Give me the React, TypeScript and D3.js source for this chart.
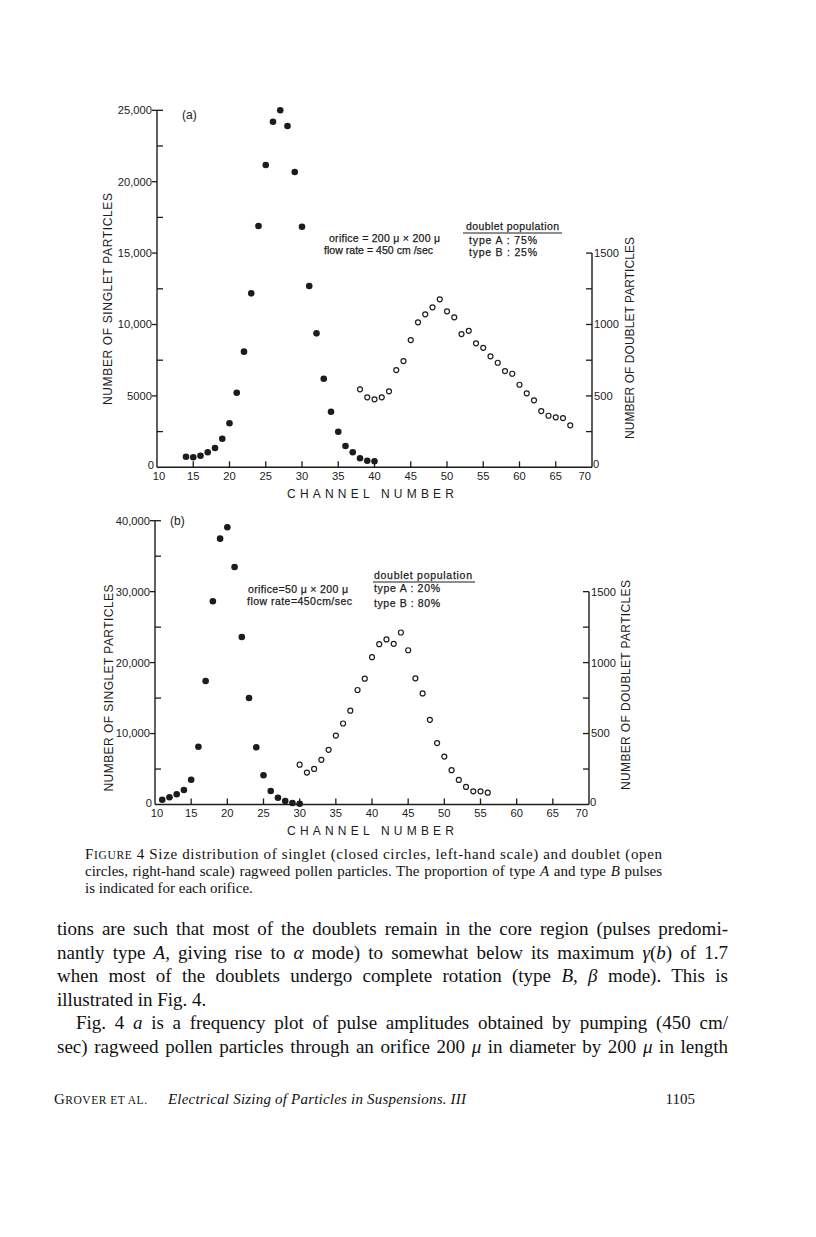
import { useRef, useLayoutEffect } from 'react';
import * as d3 from 'd3';

// ---- data ----
// (a) orifice 200 x 200
const A_SINGLET_CH = [14, 15, 16, 17, 18, 19, 20, 21, 22, 23, 24, 25, 26, 27, 28, 29, 30, 31, 32, 33, 34, 35, 36, 37, 38, 39, 40];
const A_SINGLET = [740, 700, 810, 1050, 1350, 2000, 3080, 5220, 8100, 12180, 16900, 21170, 24200, 25000, 23900, 20680, 16850, 12700, 9380, 6200, 3890, 2490, 1490, 1050, 630, 460, 420];
const A_DOUBLET_CH = [38, 39, 40, 41, 42, 43, 44, 45, 46, 47, 48, 49, 50, 51, 52, 53, 54, 55, 56, 57, 58, 59, 60, 61, 62, 63, 64, 65, 66, 67];
const A_DOUBLET = [546, 490, 476, 490, 532, 681, 744, 891, 1015, 1071, 1120, 1176, 1092, 1050, 933, 956, 868, 837, 777, 732, 674, 655, 578, 518, 469, 394, 361, 350, 345, 294];

// (b) orifice 50 x 200
const B_SINGLET_CH = [11, 12, 13, 14, 15, 16, 17, 18, 19, 20, 21, 22, 23, 24, 25, 26, 27, 28, 29, 30];
const B_SINGLET = [676, 1015, 1437, 2044, 3496, 8146, 17400, 28640, 37470, 39070, 33470, 23610, 15010, 8060, 4115, 1900, 960, 490, 210, 100];
const B_DOUBLET_CH = [30, 31, 32, 33, 34, 35, 36, 37, 38, 39, 40, 41, 42, 43, 44, 45, 46, 47, 48, 49, 50, 51, 52, 53, 54, 55, 56];
const B_DOUBLET = [281, 225, 251, 315, 385, 486, 571, 661, 807, 887, 1038, 1130, 1163, 1132, 1212, 1087, 889, 783, 597, 433, 338, 242, 173, 124, 93, 93, 83];

// ticks
const X_TICKS = [10, 15, 20, 25, 30, 35, 40, 45, 50, 55, 60, 65, 70];
const A_LEFT_MAJOR = [0, 5000, 10000, 15000, 20000, 25000];
const A_LEFT_MINOR = [2500, 7500, 12500, 17500, 22500];
const B_LEFT_MAJOR = [0, 10000, 20000, 30000, 40000];
const B_LEFT_MINOR = [5000, 15000, 25000, 35000];
const RIGHT_MAJOR = [0, 500, 1000, 1500];
const RIGHT_MINOR = [250, 750, 1250];

const SANS = "'Liberation Sans', Arial, sans-serif";
const SERIF = "'Liberation Serif', 'Times New Roman', serif";
const INK = '#1c1c1c';

const fmtLeft = (v: number) => (v >= 10000 ? d3.format(',')(v) : String(v));

type PanelProps = {
  xr: [number, number];
  yr: [number, number];
  leftMax: number;
  rightTop: number; // left-scale value level with 1500 doublets
  leftMajor: number[];
  leftMinor: number[];
  singletCh: number[];
  singlet: number[];
  doubletCh: number[];
  doublet: number[];
  label: string;
  labelX: number;
  labelDy: number;
  leftTitle: { x: number; y: number; len: number };
  rightTitle: { x: number; y: number; len: number };
  channelY: number;
};

function Panel(p: PanelProps) {
  const x = d3.scaleLinear().domain([10, 70]).range(p.xr);
  const yL = d3.scaleLinear().domain([0, p.leftMax]).range(p.yr);
  const yR = d3.scaleLinear().domain([0, 1500]).range([p.yr[0], yL(p.rightTop)]);
  const x0 = x(10), x1 = x(70), y0 = yL(0);
  const fs = 11.2;

  return (
    <g fill={INK} stroke="none" fontFamily={SANS}>
      {/* axes */}
      <line x1={x0} x2={x0} y1={y0} y2={yL(p.leftMax)} stroke={INK} strokeWidth={1.4} />
      <line x1={x0} x2={x1} y1={y0} y2={y0} stroke={INK} strokeWidth={1.4} />
      <line x1={x1} x2={x1} y1={y0} y2={yR(1500)} stroke={INK} strokeWidth={1.4} />

      {/* left ticks: majors outward, minors inward */}
      {p.leftMajor.filter(v => v > 0).map(v => (
        <line key={'lm' + v} x1={x0 - 5} x2={v === p.leftMax ? x0 + 6 : x0} y1={yL(v)} y2={yL(v)} stroke={INK} strokeWidth={1.3} />
      ))}
      {p.leftMinor.map(v => (
        <line key={'ln' + v} x1={x0} x2={x0 + 6} y1={yL(v)} y2={yL(v)} stroke={INK} strokeWidth={1.3} />
      ))}
      {p.leftMajor.filter(v => v > 0).map(v => (
        <text key={'lt' + v} x={x0 - 5} y={yL(v)} dy="0.35em" textAnchor="end" fontSize={fs}>{fmtLeft(v)}</text>
      ))}
      <text x={x0 - 3} y={y0 + 2} textAnchor="end" fontSize={fs}>0</text>

      {/* right ticks, all inward */}
      {[...RIGHT_MAJOR.filter(v => v > 0), ...RIGHT_MINOR].map(v => (
        <line key={'r' + v} x1={x1 - 6} x2={x1} y1={yR(v)} y2={yR(v)} stroke={INK} strokeWidth={1.3} />
      ))}
      {RIGHT_MAJOR.filter(v => v > 0).map(v => (
        <text key={'rt' + v} x={x1 + 2} y={yR(v)} dy="0.35em" fontSize={fs}>{v}</text>
      ))}
      <text x={x1 + 1} y={y0 + 1} fontSize={fs}>0</text>

      {/* bottom ticks */}
      {X_TICKS.filter(t => t > 10 && t < 70).map(t => (
        <line key={'xt' + t} x1={x(t)} x2={x(t)} y1={y0} y2={y0 - 6} stroke={INK} strokeWidth={1.3} />
      ))}
      {X_TICKS.map(t => (
        <text key={'xl' + t} x={t === 10 ? x(t) + 2 : t === 70 ? x(t) - 1 : x(t)} y={y0 + 12.5}
          textAnchor={t === 70 ? 'end' : 'middle'} fontSize={fs}>{t}</text>
      ))}

      {/* titles */}
      <text transform={`translate(${p.leftTitle.x},${p.leftTitle.y}) rotate(-90)`} textAnchor="middle" dy="0.35em"
        fontSize={12} textLength={p.leftTitle.len} lengthAdjust="spacing">NUMBER OF SINGLET PARTICLES</text>
      <text transform={`translate(${p.rightTitle.x},${p.rightTitle.y}) rotate(-90)`} textAnchor="middle" dy="0.35em"
        fontSize={12} textLength={p.rightTitle.len} lengthAdjust="spacing">NUMBER OF DOUBLET PARTICLES</text>
      <text x={287} y={p.channelY} fontSize={12} textLength={167} lengthAdjust="spacing">CHANNEL  NUMBER</text>
      <text x={p.labelX} y={yL(p.leftMax) + p.labelDy} fontSize={12}>{p.label}</text>

      {/* marks */}
      {p.singlet.map((v, i) => (
        <circle key={'s' + i} cx={x(p.singletCh[i])} cy={yL(v)} r={3.3} fill={INK} />
      ))}
      {p.doublet.map((v, i) => (
        <circle key={'d' + i} cx={x(p.doubletCh[i])} cy={yR(v)} r={2.5} fill="none" stroke={INK} strokeWidth={1.2} />
      ))}
    </g>
  );
}

function Note({ x, y, len, children }: { x: number; y: number; len: number; children: any }) {
  return (
    <text x={x} y={y} fontSize={10.5} fontFamily={SANS} fill={INK} stroke={INK} strokeWidth={0.25}
      textLength={len} lengthAdjust="spacing">{children}</text>
  );
}

// justified line: spreads the leftover width over the word gaps
function JustLine({ x, y, width, children }: { x: number; y: number; width: number; children: any }) {
  const ref = useRef<SVGTextElement>(null);
  useLayoutEffect(() => {
    const el = ref.current;
    if (!el) return;
    el.style.wordSpacing = '0px';
    el.removeAttribute('textLength');
    const natural = el.getComputedTextLength();
    const gaps = ((el.textContent || '').trim().match(/ /g) || []).length;
    if (!gaps) return;
    el.style.wordSpacing = `${(width - natural) / gaps}px`;
    const after = el.getComputedTextLength();
    if (Math.abs(after - width) > 2) {
      el.style.wordSpacing = '0px';
      el.setAttribute('textLength', String(width));
      el.setAttribute('lengthAdjust', 'spacing');
    }
  });
  return <text ref={ref} x={x} y={y}>{children}</text>;
}

const I = ({ children }: { children: any }) => <tspan fontStyle="italic">{children}</tspan>;

export default function App() {
  const serif = { fontFamily: SERIF, fill: '#111' };
  return (
    <svg width={816} height={1237} viewBox="0 0 816 1237"
      style={{ position: 'absolute', left: 0, top: 0, background: '#fff' }}>
      <Panel xr={[157, 592]} yr={[467.3, 110.3]} leftMax={25000} rightTop={15000} leftMajor={A_LEFT_MAJOR} leftMinor={A_LEFT_MINOR}
        singletCh={A_SINGLET_CH} singlet={A_SINGLET} doubletCh={A_DOUBLET_CH} doublet={A_DOUBLET}
        label="(a)" labelX={182} labelDy={9}
        leftTitle={{ x: 108, y: 299, len: 212 }} rightTitle={{ x: 630, y: 338, len: 202 }} channelY={498} />
      <Panel xr={[155, 589]} yr={[804.5, 520.7]} leftMax={40000} rightTop={30000} leftMajor={B_LEFT_MAJOR} leftMinor={B_LEFT_MINOR}
        singletCh={B_SINGLET_CH} singlet={B_SINGLET} doubletCh={B_DOUBLET_CH} doublet={B_DOUBLET}
        label="(b)" labelX={170} labelDy={4.5}
        leftTitle={{ x: 109, y: 688, len: 207 }} rightTitle={{ x: 626, y: 685, len: 210 }} channelY={835} />

      {/* annotations (a) */}
      <Note x={329} y={241.5} len={111}>orifice = 200 μ × 200 μ</Note>
      <Note x={324} y={254} len={109}>flow rate = 450 cm /sec</Note>
      <Note x={466} y={229.5} len={93}>doublet population</Note>
      <line x1={463} x2={562} y1={233} y2={233} stroke={INK} strokeWidth={1.2} />
      <Note x={469} y={243.5} len={68}>type A : 75%</Note>
      <Note x={469} y={256} len={68}>type B : 25%</Note>

      {/* annotations (b) */}
      <Note x={248} y={592.5} len={100}>orifice=50 μ × 200 μ</Note>
      <Note x={247} y={605} len={105}>flow rate=450cm/sec</Note>
      <Note x={374} y={578.5} len={98}>doublet population</Note>
      <line x1={373} x2={475} y1={582} y2={582} stroke={INK} strokeWidth={1.2} />
      <Note x={374} y={591.5} len={66}>type A : 20%</Note>
      <Note x={374} y={606.5} len={66}>type B : 80%</Note>

      {/* caption */}
      <g {...serif} fontSize={15}>
        <JustLine x={85} y={859} width={577}>
          <tspan>F</tspan><tspan fontSize={11.5}>IGURE</tspan> 4  Size distribution of singlet (closed circles, left-hand scale) and doublet (open
        </JustLine>
        <JustLine x={85} y={876} width={577}>
          circles, right-hand scale) ragweed pollen particles. The proportion of type <I>A</I> and type <I>B</I> pulses
        </JustLine>
        <text x={85} y={893}>is indicated for each orifice.</text>
      </g>

      {/* body text */}
      <g {...serif} fontSize={19}>
        <JustLine x={57} y={935} width={671}>tions are such that most of the doublets remain in the core region (pulses predomi-</JustLine>
        <JustLine x={57} y={958.5} width={671}>
          nantly type <I>A</I>, giving rise to <I>α</I> mode) to somewhat below its maximum <I>γ</I>(<I>b</I>) of 1.7
        </JustLine>
        <JustLine x={57} y={982} width={671}>
          when most of the doublets undergo complete rotation (type <I>B</I>, <I>β</I> mode). This is
        </JustLine>
        <text x={57} y={1005.5}>illustrated in Fig. 4.</text>
        <JustLine x={76} y={1029} width={652}>
          Fig. 4 <I>a</I> is a frequency plot of pulse amplitudes obtained by pumping (450 cm/
        </JustLine>
        <JustLine x={57} y={1052.5} width={671}>
          sec) ragweed pollen particles through an orifice 200 <I>μ</I> in diameter by 200 <I>μ</I> in length
        </JustLine>
      </g>

      {/* running footer */}
      <g {...serif}>
        <text x={54} y={1104} fontSize={15} textLength={93} lengthAdjust="spacing">
          <tspan>G</tspan><tspan fontSize={11.5}>ROVER ET AL.</tspan>
        </text>
        <text x={168} y={1104} fontSize={15} fontStyle="italic" textLength={298} lengthAdjust="spacing">Electrical Sizing of Particles in Suspensions. III</text>
        <text x={695} y={1104} fontSize={15} textAnchor="end">1105</text>
      </g>
    </svg>
  );
}
